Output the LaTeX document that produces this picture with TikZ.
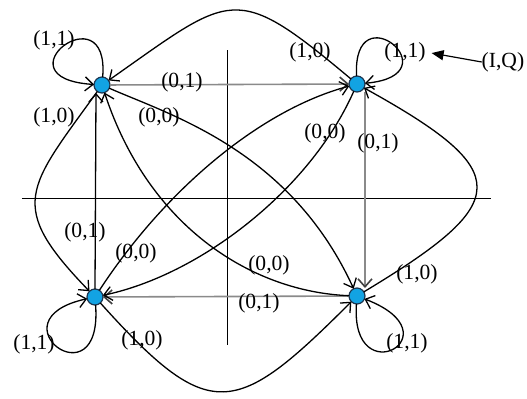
\documentclass[tikz,border=0pt]{standalone}
\usepackage{fontspec}
\setmainfont{Liberation Serif}
\usetikzlibrary{arrows.meta}
\definecolor{stfill}{HTML}{12A3E3}
\definecolor{stline}{HTML}{1B3550}
\definecolor{fgrey}{HTML}{8A8A8A}

\begin{document}
\begin{tikzpicture}[
  x=0.5pt, y=-0.5pt,
  every node/.style={inner sep=0pt, outer sep=0pt},
  st/.style={circle, draw=stline, line width=0.6pt, fill=stfill, minimum size=8pt},
  flow/.style={draw=black, line width=0.65pt, -{Straight Barb[length=4pt,width=7pt]}},
  flowg/.style={draw=fgrey, line width=0.8pt, -{Straight Barb[length=4pt,width=7pt,color=black!75]}},
  lbl/.style={font=\fontsize{10.8}{12}\selectfont},
  axis/.style={draw=black, line width=0.5pt},
  ptr/.style={draw=black, line width=0.6pt, -{Triangle[length=6pt,width=5pt]}},
]
\useasboundingbox (0,0) rectangle (527,398);

% axes
\draw[axis] (22,198) -- (491,198);
\draw[axis] (228,50) -- (228,345);

% ---------- states ----------
\node[st] (tl) at (102,85) {};
\node[st] (tr) at (357,84) {};
\node[st] (bl) at (95,297) {};
\node[st] (br) at (357,296) {};

% ---------- input (0,1): the square ----------
\draw[flowg] (tl) -- (tr);
\draw[flowg] ([xshift=4pt]tr.south) -- ([xshift=4pt]br.north);
\draw[flowg] (br) -- (bl);
\draw[flow] (bl.north) -- ([xshift=-3pt]tl.south);

% ---------- input (0,0): the diagonals ----------
\draw[flow] (tl) .. controls (170,115) and (290,150) .. (br);
\draw[flow] (br) .. controls (255,292) and (150,230) .. (tl);
\draw[flow] (bl) .. controls (165,190) and (260,110) .. (tr);
\draw[flow] (tr) .. controls (310,190) and (200,275) .. (bl);

% ---------- input (1,0): the outer arcs ----------
\draw[flow] (tr) .. controls (234,-19) and (233,-7) .. (tl);
\draw[flow] (tl) .. controls (27,189) and (6,205) .. (bl);
\draw[flow] (bl) .. controls (210,425) and (235,418) .. (br);
\draw[flow] (br) .. controls (513,202) and (516,172) .. (tr);

% ---------- input (1,1): self loops ----------
\draw[flow] (tl) .. controls (110,-10) and (-5,78) .. (tl);
\draw[flow] (tr) .. controls (352,-10) and (455,75) .. (tr);
\draw[flow] (bl) .. controls (103,405) and (-10,320) .. (bl);
\draw[flow] (br) .. controls (350,395) and (458,335) .. (br);

% ---------- labels ----------
\foreach \n/\x/\y/\t in {a11/54/40/{(1,1)}, a10/54/117/{(1,0)},
                         a01/182/82/{(0,1)}, a00/159/117/{(0,0)},
                         b10/310/52/{(1,0)}, b11/405/52/{(1,1)},
                         b00/325/133/{(0,0)}, b01/378/143/{(0,1)},
                         c01/85/232/{(0,1)}, c00/136/253/{(0,0)},
                         c11/34/344/{(1,1)}, c10/142/340/{(1,0)},
                         d00/269/265/{(0,0)}, d01/259/303/{(0,1)},
                         d10/417/274/{(1,0)}, d11/407/343/{(1,1)}}{
  \node[lbl] (\n) at (\x,\y) {\t};
}
\node[lbl] (iq) at (503,62) {(I,Q)};
\draw[ptr, shorten >=3pt] (iq.west) -- (b11.east);

\end{tikzpicture}
\end{document}
